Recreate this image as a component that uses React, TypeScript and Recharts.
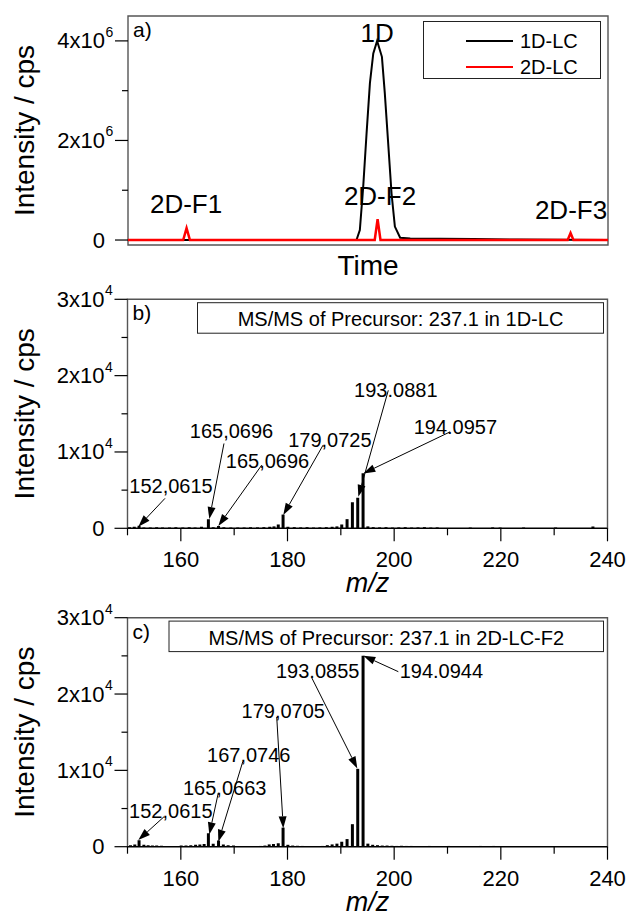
import React from 'react';
import {
  ComposedChart,
  Line,
  Bar,
  XAxis,
  YAxis,
  ReferenceArea,
  ReferenceLine,
  ReferenceDot,
  Legend,
} from 'recharts';

const FONT = "'Liberation Sans', Arial, Helvetica, sans-serif";

// ---------- Panel a: chromatograms ----------
const time1D = [0, 40, 47.6, 48.3, 49.0, 49.7, 50.4, 51.1, 51.9, 52.9, 53.5, 54.2, 54.9, 55.6, 56.7, 58.8, 65, 72, 81, 100];
const int1D = [0, 0, 0, 200000, 1070000, 2140000, 3150000, 3750000, 4000000, 3680000, 2950000, 1950000, 940000, 270000, 45000, 30000, 25000, 20000, 10000, 0];
const time2D = [0, 11.5, 12.2, 12.9, 51.4, 52.0, 52.6, 91.6, 92.2, 92.8, 100];
const int2D = [0, 0, 240000, 0, 0, 420000, 0, 0, 140000, 0, 0];
const chromYTicks = [0, 1000000, 2000000, 3000000, 4000000];
const chromYMajor = [0, 2000000, 4000000];
const chromPeakNames = ['1D', '2D-F1', '2D-F2', '2D-F3'];
const chromPeakNameTime = [51.9, 12.1, 52.5, 92.3];
const chromPeakNameInt = [3970000, 540000, 700000, 420000];

// ---------- Panel b: MS/MS in 1D-LC ----------
const mzB = [150.3, 151.2, 152.1, 153.0, 154.2, 155.4, 156.5, 157.8, 159.0, 160.3, 161.5, 162.6, 163.8, 165.1, 166.0, 167.0, 168.0, 169.3, 170.6, 171.8, 173.0, 174.3, 175.5, 176.6, 177.4, 178.2, 179.1, 180.0, 181.2, 182.4, 183.6, 184.8, 186.0, 187.2, 188.3, 189.2, 190.1, 191.1, 192.1, 193.1, 194.1, 195.0, 196.0, 197.2, 198.4, 199.6, 200.8, 202.0, 203.2, 204.4, 205.6, 206.8, 208.0, 214.2, 218.4, 219.8, 224.2, 230.2, 237.2];
const intB = [150, 200, 350, 120, 100, 150, 120, 100, 130, 100, 150, 100, 200, 1200, 150, 300, 150, 100, 120, 100, 150, 120, 150, 200, 250, 500, 1800, 200, 150, 120, 150, 100, 120, 150, 200, 250, 500, 1200, 3400, 4000, 7200, 250, 150, 120, 150, 100, 120, 150, 100, 120, 150, 100, 120, 100, 120, 100, 100, 100, 250];
const labelsB = ['152,0615', '165,0696', '165,0696', '179,0725', '193.0881', '194.0957'];
const labelMzB = [158.16, 169.5, 176.25, 187.95, 200.31, 211.48];
const labelIntB = [4614, 11803, 7881, 10626, 17161, 12325];
const tailMzB = [157.03, 168.09, 175.16, 186.66, 198.9, 210.47];
const tailIntB = [3921, 11110, 8274, 10888, 18076, 12626];
const headMzB = [152.03, 165.34, 167.03, 179.21, 193.28, 194.22];
const headIntB = [209, 1216, 300, 1738, 4130, 7189];

// ---------- Panel c: MS/MS in 2D-LC-F2 ----------
const mzC = [150.5, 151.3, 152.1, 153.0, 153.8, 154.6, 155.4, 156.3, 159.1, 160.0, 160.9, 161.8, 162.7, 163.5, 164.3, 165.1, 166.0, 167.0, 167.9, 168.8, 169.8, 170.7, 174.9, 175.7, 176.5, 177.3, 178.2, 179.1, 180.0, 180.9, 181.8, 182.7, 186.5, 187.4, 188.3, 189.2, 190.1, 191.1, 192.1, 193.1, 194.1, 195.0, 195.9, 196.8, 197.7, 198.6, 199.5, 200.4, 201.3, 202.2, 203.1, 206.5, 210.2, 212.3, 216.1, 218.6, 222.0, 230.3, 237.3];
const intC = [200, 300, 850, 250, 200, 150, 150, 120, 100, 150, 150, 200, 250, 300, 350, 1750, 400, 800, 300, 200, 150, 100, 100, 150, 300, 350, 450, 2500, 250, 150, 120, 100, 100, 200, 300, 400, 650, 1000, 2950, 10200, 25000, 400, 250, 200, 150, 150, 120, 100, 120, 100, 100, 100, 100, 80, 100, 100, 80, 80, 100];
const labelsC = ['152,0615', '165,0663', '167,0746', '179,0705', '193.0855', '194.0944'];
const labelMzC = [158.12, 168.22, 172.73, 179.2, 185.66, 208.85];
const labelIntC = [3751, 6757, 11110, 16821, 22049, 22049];
const tailMzC = [156.84, 167.03, 171.6, 177.98, 184.54, 200.78];
const tailIntC = [3921, 7058, 11110, 16991, 22140, 22928];
const headMzC = [152.03, 165.34, 167.03, 179.21, 193.09, 194.22];
const headIntC = [876, 1608, 654, 2405, 10246, 25019];

const msXTicks = [150, 160, 170, 180, 190, 200, 210, 220, 230, 240];
const msXLabeled = [160, 180, 200, 220, 240];
const msYTicks = [0, 5000, 10000, 15000, 20000, 25000, 30000];
const msYMajor = [0, 10000, 20000, 30000];

const data1D = time1D.map((t, i) => ({ t, v: int1D[i] }));
const data2D = time2D.map((t, i) => ({ t, v: int2D[i] }));
const dataB = mzB.map((mz, i) => ({ mz, v: intB[i] }));
const dataC = mzC.map((mz, i) => ({ mz, v: intC[i] }));

const mkAnn = (labels: string[], lmz: number[], lint: number[], tmz: number[], tint: number[], hmz: number[], hint: number[]) =>
  labels.map((text, i) => ({ text, lx: lmz[i], ly: lint[i], x1: tmz[i], y1: tint[i], x2: hmz[i], y2: hint[i] }));
const annB = mkAnn(labelsB, labelMzB, labelIntB, tailMzB, tailIntB, headMzB, headIntB);
const annC = mkAnn(labelsC, labelMzC, labelIntC, tailMzC, tailIntC, headMzC, headIntC);

// ---------- helpers ----------
const YTick = (props: any) => {
  const { x, y, payload, major, exp } = props;
  const v = payload.value;
  const isMajor = major.includes(v);
  const len = isMajor ? 13 : 6;
  let label: any = null;
  if (isMajor) {
    if (v === 0) {
      label = (
        <text x={x - 23} y={y + 7.5} textAnchor="end" fontSize={22} fontFamily={FONT} fill="#000">0</text>
      );
    } else {
      const m = Math.round(v / Math.pow(10, exp));
      label = (
        <g>
          <text x={x - 23} y={y + 7.5} textAnchor="end" fontSize={22} fontFamily={FONT} fill="#000">{`${m}x10`}</text>
          <text x={x - 22.5} y={y - 4} textAnchor="start" fontSize={14} fontFamily={FONT} fill="#000">{String(exp)}</text>
        </g>
      );
    }
  }
  return (
    <g>
      <line x1={x - len} y1={y} x2={x} y2={y} stroke="#000" strokeWidth={1.2} />
      {label}
    </g>
  );
};

const XTick = (props: any) => {
  const { x, y, payload, labeled } = props;
  const v = payload.value;
  const isMajor = labeled.includes(v);
  const len = isMajor ? 13 : 7;
  return (
    <g>
      <line x1={x} y1={y} x2={x} y2={y + len} stroke="#000" strokeWidth={1.2} />
      {isMajor && (
        <text x={x} y={y + 39} textAnchor="middle" fontSize={22} fontFamily={FONT} fill="#000">{String(v)}</text>
      )}
    </g>
  );
};

const Arrow = (props: any) => {
  const { x1, y1, x2, y2 } = props;
  const dx = x2 - x1;
  const dy = y2 - y1;
  const L = Math.sqrt(dx * dx + dy * dy) || 1;
  const ux = dx / L;
  const uy = dy / L;
  const hl = 12;
  const hw = 4;
  const bx = x2 - ux * hl;
  const by = y2 - uy * hl;
  const pts = `${x2},${y2} ${bx - uy * hw},${by + ux * hw} ${bx + uy * hw},${by - ux * hw}`;
  return (
    <g>
      <line x1={x1} y1={y1} x2={bx} y2={by} stroke="#000" strokeWidth={1} />
      <polygon points={pts} fill="#000" />
    </g>
  );
};

const YTitle = (props: any) => {
  const vb = props.viewBox;
  const cy = vb.y + vb.height / 2;
  return (
    <text x={34} y={cy} transform={`rotate(-90, 34, ${cy})`} textAnchor="middle" fontSize={28} fontFamily={FONT} fill="#000">
      Intensity / cps
    </text>
  );
};

const XTitle = (props: any, text: string, dy: number, italic: boolean, size: number) => {
  const vb = props.viewBox;
  return (
    <text x={vb.x + vb.width / 2} y={vb.y + dy} textAnchor="middle" fontSize={size} fontStyle={italic ? 'italic' : 'normal'} fontFamily={FONT} fill="#000">
      {text}
    </text>
  );
};

const PanelDecor = (props: any, tag: string, title: string | null, boxLeft: number) => {
  const { x, y, width } = props.viewBox;
  const bx = x + boxLeft;
  const bw = x + width - 4 - bx;
  return (
    <g>
      <text x={x + 5} y={y + 21} fontSize={21} fontFamily={FONT} fill="#000">{tag}</text>
      {title && (
        <g>
          <rect x={bx} y={y + 3.4} width={bw} height={30.5} fill="#fff" stroke="#222" strokeWidth={1} />
          <text x={bx + bw / 2} y={y + 27} textAnchor="middle" fontSize={20} fontFamily={FONT} fill="#000">{title}</text>
        </g>
      )}
    </g>
  );
};

const ChromLegend = (props: any) => {
  const payload = props.payload || [];
  return (
    <div style={{ width: 178, height: 58, border: '1px solid #222', boxSizing: 'border-box', background: '#fff' }}>
      <svg width={176} height={56} style={{ display: 'block' }}>
        {payload.map((p: any, i: number) => (
          <g key={i}>
            <line x1={42} x2={89} y1={19 + i * 26} y2={19 + i * 26} stroke={p.color} strokeWidth={2.2} />
            <text x={96} y={26 + i * 26} fontSize={20} fontFamily={FONT} fill="#000">{p.value}</text>
          </g>
        ))}
      </svg>
    </div>
  );
};

const MSPanel = ({ data, ann, tag, title, boxLeft, height, top }: any) => (
  <ComposedChart
    width={628}
    height={height}
    data={data}
    margin={{ top, right: 20.5, left: 0, bottom: 0 }}
    style={{ overflow: 'visible' }}
  >
    <XAxis
      dataKey="mz"
      type="number"
      domain={[150, 240]}
      ticks={msXTicks}
      interval={0}
      allowDataOverflow
      height={height - top - 229}
      tickSize={0}
      tickMargin={0}
      tickLine={false}
      axisLine={{ stroke: '#000', strokeWidth: 1.3 }}
      tick={(p: any) => <XTick {...p} labeled={msXLabeled} />}
      label={{ content: (p: any) => XTitle(p, 'm/z', 64, true, 27) }}
    />
    <YAxis
      type="number"
      domain={[0, 30000]}
      ticks={msYTicks}
      interval={0}
      width={127.5}
      tickSize={0}
      tickMargin={0}
      tickLine={false}
      axisLine={false}
      tick={(p: any) => <YTick {...p} major={msYMajor} exp={4} />}
      label={{ content: YTitle }}
    />
    <ReferenceArea
      x1={150}
      x2={240}
      y1={0}
      y2={30000}
      fill="none"
      fillOpacity={0}
      stroke="#555"
      strokeWidth={1.4}
      strokeOpacity={1}
      label={{ content: (p: any) => PanelDecor(p, tag, title, boxLeft) }}
    />
    <Bar dataKey="v" fill="#000" barSize={3} isAnimationActive={false} />
    {ann.map((a: any, i: number) => (
      <ReferenceLine
        key={`l${i}`}
        segment={[{ x: a.x1, y: a.y1 }, { x: a.x2, y: a.y2 }]}
        ifOverflow="visible"
        shape={Arrow}
      />
    ))}
    {ann.map((a: any, i: number) => (
      <ReferenceDot
        key={`t${i}`}
        x={a.lx}
        y={a.ly}
        r={0}
        ifOverflow="visible"
        shape={(p: any) => (
          <text x={p.cx} y={p.cy} textAnchor="middle" fontSize={20} fontFamily={FONT} fill="#000">{a.text}</text>
        )}
      />
    ))}
  </ComposedChart>
);

export default function App() {
  return (
    <div style={{ position: 'absolute', left: 0, top: 0, width: 628, height: 916, background: '#fff', fontFamily: FONT }}>
      <div style={{ position: 'absolute', left: 0, top: 0 }}>
        <ComposedChart width={628} height={290} margin={{ top: 16, right: 20, left: 0, bottom: 0 }} style={{ overflow: 'visible' }}>
          <XAxis
            dataKey="t"
            type="number"
            domain={[0, 100]}
            allowDataOverflow
            height={45}
            tick={false}
            tickLine={false}
            axisLine={false}
            label={{ content: (p: any) => XTitle(p, 'Time', 30, false, 28) }}
          />
          <YAxis
            type="number"
            domain={[-100000, 4500000]}
            ticks={chromYTicks}
            interval={0}
            allowDataOverflow
            width={128}
            tickSize={0}
            tickMargin={0}
            tickLine={false}
            axisLine={false}
            tick={(p: any) => <YTick {...p} major={chromYMajor} exp={6} />}
            label={{ content: YTitle }}
          />
          <ReferenceArea
            x1={0}
            x2={100}
            y1={-100000}
            y2={4500000}
            fill="none"
            fillOpacity={0}
            stroke="#555"
            strokeWidth={1.4}
            strokeOpacity={1}
            label={{ content: (p: any) => PanelDecor(p, 'a)', null, 0) }}
          />
          <Line data={data1D} dataKey="v" name="1D-LC" type="linear" stroke="#000" strokeWidth={2} dot={false} isAnimationActive={false} />
          <Line data={data2D} dataKey="v" name="2D-LC" type="linear" stroke="#ff0000" strokeWidth={2.5} dot={false} isAnimationActive={false} />
          {chromPeakNames.map((n, i) => (
            <ReferenceDot
              key={n}
              x={chromPeakNameTime[i]}
              y={chromPeakNameInt[i]}
              r={0}
              ifOverflow="visible"
              shape={(p: any) => (
                <text x={p.cx} y={p.cy} textAnchor="middle" fontSize={26} fontFamily={FONT} fill="#000">{n}</text>
              )}
            />
          ))}
          <Legend
            layout="horizontal"
            verticalAlign="middle"
            align="center"
            content={ChromLegend}
            wrapperStyle={{ left: 423, top: 21, width: 178, height: 58 }}
          />
        </ComposedChart>
      </div>
      <div style={{ position: 'absolute', left: 0, top: 280 }}>
        <MSPanel data={dataB} ann={annB} tag="b)" title="MS/MS of Precursor: 237.1 in 1D-LC" boxLeft={70} height={320} top={19.3} />
      </div>
      <div style={{ position: 'absolute', left: 0, top: 590 }}>
        <MSPanel data={dataC} ann={annC} tag="c)" title="MS/MS of Precursor: 237.1 in 2D-LC-F2" boxLeft={41.5} height={326} top={27.7} />
      </div>
    </div>
  );
}
